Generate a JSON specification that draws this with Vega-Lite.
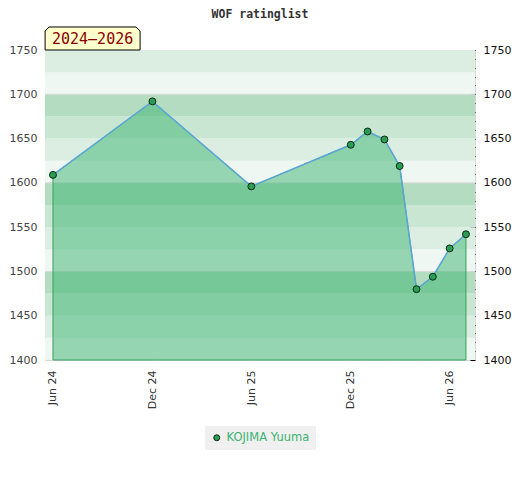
{
  "$schema": "https://vega.github.io/schema/vega-lite/v6.json",
  "width": 430,
  "height": 310,
  "autosize": "none",
  "padding": {"left": 45, "top": 50, "right": 45, "bottom": 120},
  "background": "white",
  "title": {"text": "WOF ratinglist", "font": "DejaVu Sans Mono", "fontSize": 11.5, "fontWeight": "bold", "color": "#333333", "offset": 4},
  "config": {
    "view": {"stroke": "#d6d6d6", "strokeWidth": 1},
    "axis": {"labelFont": "DejaVu Sans", "labelFontSize": 11, "grid": false, "domain": false},
    "legend": {"layout": {"bottom": {"anchor": "middle"}}}
  },
  "datasets": {
    "ratings": [
      {"date": "2024-06-01", "rating": 1609, "player": "KOJIMA Yuuma"},
      {"date": "2024-12-01", "rating": 1692, "player": "KOJIMA Yuuma"},
      {"date": "2025-06-01", "rating": 1596, "player": "KOJIMA Yuuma"},
      {"date": "2025-12-01", "rating": 1643, "player": "KOJIMA Yuuma"},
      {"date": "2026-01-01", "rating": 1658, "player": "KOJIMA Yuuma"},
      {"date": "2026-02-01", "rating": 1649, "player": "KOJIMA Yuuma"},
      {"date": "2026-03-01", "rating": 1619, "player": "KOJIMA Yuuma"},
      {"date": "2026-04-01", "rating": 1480, "player": "KOJIMA Yuuma"},
      {"date": "2026-05-01", "rating": 1494, "player": "KOJIMA Yuuma"},
      {"date": "2026-06-01", "rating": 1526, "player": "KOJIMA Yuuma"},
      {"date": "2026-07-01", "rating": 1542, "player": "KOJIMA Yuuma"}
    ],
    "bands": [
      {"lo": 1400, "hi": 1425, "shade": "s0"},
      {"lo": 1425, "hi": 1450, "shade": "s1"},
      {"lo": 1450, "hi": 1475, "shade": "s2"},
      {"lo": 1475, "hi": 1500, "shade": "s3"},
      {"lo": 1500, "hi": 1525, "shade": "s0"},
      {"lo": 1525, "hi": 1550, "shade": "s1"},
      {"lo": 1550, "hi": 1575, "shade": "s2"},
      {"lo": 1575, "hi": 1600, "shade": "s3"},
      {"lo": 1600, "hi": 1625, "shade": "s0"},
      {"lo": 1625, "hi": 1650, "shade": "s1"},
      {"lo": 1650, "hi": 1675, "shade": "s2"},
      {"lo": 1675, "hi": 1700, "shade": "s3"},
      {"lo": 1700, "hi": 1725, "shade": "s0"},
      {"lo": 1725, "hi": 1750, "shade": "s1"}
    ],
    "gridlines": [{"v": 1500}, {"v": 1600}, {"v": 1700}],
    "badge": [{"label": "2024–2026"}]
  },
  "resolve": {"axis": {"y": "independent"}, "scale": {"color": "independent"}, "legend": {"color": "independent"}},
  "layer": [
    {
      "data": {"name": "bands"},
      "mark": {"type": "rect"},
      "encoding": {
        "y": {"field": "lo", "type": "quantitative", "scale": {"domain": [1400, 1750], "nice": false, "zero": false}, "title": null,
              "axis": {"orient": "left", "values": [1400, 1450, 1500, 1550, 1600, 1650, 1700, 1750], "format": "d", "ticks": false, "labelPadding": 8, "labelColor": "#444444"}},
        "y2": {"field": "hi"},
        "color": {"field": "shade", "type": "nominal", "legend": null,
                  "scale": {"domain": ["s0", "s1", "s2", "s3"], "range": ["#eef7f1", "#dbeee1", "#c8e6d2", "#b3dcc1"]}}
      }
    },
    {
      "data": {"name": "gridlines"},
      "mark": {"type": "rule", "color": "#d8d8d8", "strokeWidth": 1},
      "encoding": {
        "y": {"field": "v", "type": "quantitative", "axis": null}
      }
    },
    {
      "data": {"name": "ratings"},
      "mark": {"type": "area", "fill": "#3cb371", "fillOpacity": 0.5, "stroke": "#36a25c", "strokeWidth": 1},
      "encoding": {
        "x": {"field": "date", "type": "temporal", "title": null,
              "scale": {"type": "utc", "domain": [1715929200000, 1784300400000]},
              "axis": {"values": [1717200000000, 1733011200000, 1748736000000, 1764547200000, 1780272000000],
                       "labelExpr": "utcFormat(datum.value, '%b %y')", "labelAngle": 270, "ticks": false, "labelPadding": 10, "labelColor": "#333333"}},
        "y": {"field": "rating", "type": "quantitative", "axis": null},
        "y2": {"datum": 1400}
      }
    },
    {
      "data": {"name": "ratings"},
      "mark": {"type": "line", "color": "#5ca6d8", "strokeWidth": 1.5},
      "encoding": {
        "x": {"field": "date", "type": "temporal", "title": null,
              "axis": {"values": [1717200000000, 1733011200000, 1748736000000, 1764547200000, 1780272000000],
                       "labelExpr": "utcFormat(datum.value, '%b %y')", "labelAngle": 270, "ticks": false, "labelPadding": 10, "labelColor": "#333333"}},
        "y": {"field": "rating", "type": "quantitative", "axis": null}
      }
    },
    {
      "data": {"name": "ratings"},
      "mark": {"type": "point", "filled": true, "size": 48, "stroke": "#0b2a14", "strokeWidth": 1, "opacity": 1, "shape": "circle"},
      "encoding": {
        "x": {"field": "date", "type": "temporal", "title": null,
              "axis": {"values": [1717200000000, 1733011200000, 1748736000000, 1764547200000, 1780272000000],
                       "labelExpr": "utcFormat(datum.value, '%b %y')", "labelAngle": 270, "ticks": false, "labelPadding": 10, "labelColor": "#333333"}},
        "y": {"field": "rating", "type": "quantitative", "title": null,
              "axis": {"orient": "right", "values": [1400, 1410, 1420, 1430, 1440, 1450, 1460, 1470, 1480, 1490, 1500, 1510, 1520, 1530, 1540, 1550, 1560, 1570, 1580, 1590, 1600, 1610, 1620, 1630, 1640, 1650, 1660, 1670, 1680, 1690, 1700, 1710, 1720, 1730, 1740, 1750],
                       "format": "d",
                       "labelExpr": "datum.value % 50 === 0 ? datum.label : ''",
                       "tickColor": "#000000", "tickWidth": 1,
                       "tickSize": {"condition": {"test": "datum.value % 50 === 0", "value": -5}, "value": -3},
                       "labelPadding": 13, "labelColor": "#111111", "labelFlush": false}},
        "color": {"field": "player", "type": "nominal",
                  "scale": {"domain": ["KOJIMA Yuuma"], "range": ["#2a9d55"]},
                  "legend": {"title": null, "orient": "bottom", "direction": "horizontal", "offset": 17, "fillColor": "#f0f0f0", "padding": 6,
                             "labelColor": "#3cb371", "labelFont": "DejaVu Sans", "labelFontSize": 11.5, "symbolType": "circle", "symbolSize": 36,
                             "symbolFillColor": "#1f7f40", "symbolStrokeColor": "#0b2a14", "symbolStrokeWidth": 1}}
      }
    },
    {
      "data": {"name": "badge"},
      "mark": {"type": "point", "filled": true, "fill": "#ffffcc", "stroke": "#000000", "strokeWidth": 1, "opacity": 1, "size": 529,
               "shape": "M-4.13,1 L-4.13,-0.65 L-3.78,-1 L3.78,-1 L4.13,-0.65 L4.13,1 Z"},
      "encoding": {
        "x": {"datum": 1723496400000, "type": "temporal"},
        "y": {"datum": 1763, "type": "quantitative", "axis": null}
      }
    },
    {
      "data": {"name": "badge"},
      "mark": {"type": "text", "font": "DejaVu Sans Mono", "fontSize": 15, "color": "#8b0000", "align": "center", "baseline": "middle", "dy": 1},
      "encoding": {
        "x": {"datum": 1723496400000, "type": "temporal"},
        "y": {"datum": 1763, "type": "quantitative", "axis": null},
        "text": {"field": "label"}
      }
    }
  ]
}
